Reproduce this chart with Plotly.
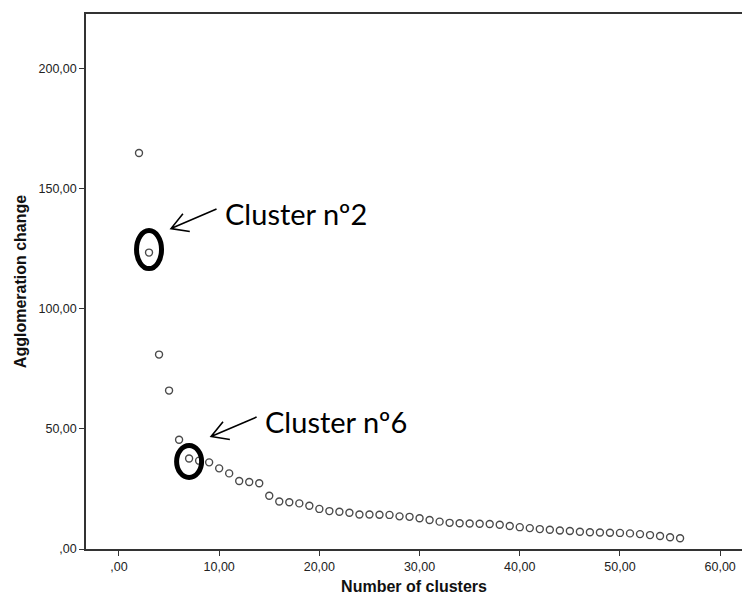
import plotly.graph_objects as go
import numpy as np

# ---- data ----
clusters = list(range(2, 57))
agglom_change = [
    165.0, 123.5, 81.0, 66.0, 45.5, 37.7, 36.8, 36.1, 33.6, 31.5,
    28.3, 27.9, 27.4, 22.2, 19.8, 19.5, 19.0, 18.0, 16.7, 15.8,
    15.5, 15.1, 14.4, 14.4, 14.3, 14.2, 13.6, 13.4, 12.8, 12.1,
    11.4, 10.9, 10.7, 10.6, 10.5, 10.4, 10.1, 9.6, 9.1, 8.7,
    8.3, 8.0, 7.7, 7.5, 7.2, 7.0, 6.9, 6.8, 6.7, 6.5,
    6.2, 5.8, 5.4, 4.9, 4.5,
]
x_tickvals = [0, 10, 20, 30, 40, 50, 60]
x_ticktext = [",00", "10,00", "20,00", "30,00", "40,00", "50,00", "60,00"]
y_tickvals = [0, 50, 100, 150, 200]
y_ticktext = [",00", "50,00", "100,00", "150,00", "200,00"]
highlight_clusters = [3, 7]
highlight_labels = ["Cluster nº2", "Cluster nº6"]

# ---- layout geometry ----
W, H = 742, 604
L, R, T, B = 86, 0, 14, 55
pw, ph = W - L - R, H - T - B
x_range = [-3.29, 62.18]
y_range = [0, 222.9]


def px_x(v):
    return L + (v - x_range[0]) / (x_range[1] - x_range[0]) * pw


def px_y(v):
    return T + ph - (v - y_range[0]) / (y_range[1] - y_range[0]) * ph


def paper(px, py):
    return (px - L) / pw, (T + ph - py) / ph


fig = go.Figure()
fig.add_trace(go.Scatter(
    x=clusters, y=agglom_change, mode="markers",
    marker=dict(symbol="circle-open", size=7, color="#4a4a4a",
                line=dict(width=1.4, color="#4a4a4a")),
    hoverinfo="x+y", showlegend=False,
))

shapes = []
annotations = []
ellipse_size = [(25, 38), (25, 32)]
for i, (c, lab) in enumerate(zip(highlight_clusters, highlight_labels)):
    v = agglom_change[clusters.index(c)]
    cx, cy = px_x(c), px_y(v)
    ew, eh = ellipse_size[i]
    cy_e = cy - 3 if i == 0 else cy + 3
    x0, y0 = paper(cx - ew / 2, cy_e + eh / 2)
    x1, y1 = paper(cx + ew / 2, cy_e - eh / 2)
    shapes.append(dict(type="circle", xref="paper", yref="paper",
                       x0=x0, y0=y0, x1=x1, y1=y1,
                       line=dict(color="black", width=5)))
    # arrow (open V head)
    tipx, tipy = cx + 22, cy - 24 if i == 0 else cy - 22
    tailx, taily = tipx + 45.5, tipy - 19.5
    d = np.array([tailx - tipx, taily - tipy])
    d = d / np.linalg.norm(d)
    pts = []
    for ang in (np.radians(32), np.radians(-28)):
        rot = np.array([[np.cos(ang), -np.sin(ang)], [np.sin(ang), np.cos(ang)]])
        w = rot @ d * 19
        pts.append((tipx + w[0], tipy + w[1]))
    p = lambda a, b: "%.5f,%.5f" % paper(a, b)
    path = ("M " + p(tailx, taily) + " L " + p(tipx, tipy) +
            " M " + p(*pts[0]) + " L " + p(tipx, tipy) + " L " + p(*pts[1]))
    shapes.append(dict(type="path", xref="paper", yref="paper", path=path,
                       line=dict(color="black", width=1.6)))
    ax_, ay_ = paper(tailx + 6, taily + 4)
    annotations.append(dict(text=lab, xref="paper", yref="paper",
                            x=ax_, y=ay_, xanchor="left", yanchor="middle",
                            showarrow=False,
                            font=dict(family="Lato, Noto Sans, sans-serif",
                                      size=29, color="black")))

fig.update_layout(
    width=W, height=H,
    margin=dict(l=L, r=R, t=T, b=B, pad=0),
    paper_bgcolor="white", plot_bgcolor="white",
    shapes=shapes, annotations=annotations,
    font=dict(family="Liberation Sans, Arial, sans-serif", color="#222"),
    xaxis=dict(
        range=x_range, tickvals=x_tickvals, ticktext=x_ticktext,
        showgrid=False, zeroline=False, showline=True, linecolor="#333",
        linewidth=1.5, mirror=True, ticks="outside", ticklen=5,
        tickcolor="#333", tickwidth=1, tickfont=dict(size=12.5, color="#222"),
        title=dict(text="<b>Number of clusters</b>", standoff=8,
                   font=dict(size=16, color="#111")),
    ),
    yaxis=dict(
        range=y_range, tickvals=y_tickvals, ticktext=y_ticktext,
        showgrid=False, zeroline=False, showline=True, linecolor="#333",
        linewidth=1.5, ticks="outside", ticklen=5, tickcolor="#333",
        tickwidth=1, tickfont=dict(size=12.5, color="#222"),
        title=dict(text="<b>Agglomeration change</b>", standoff=8,
                   font=dict(size=16, color="#111")),
    ),
)

fig.write_html("out.html")
